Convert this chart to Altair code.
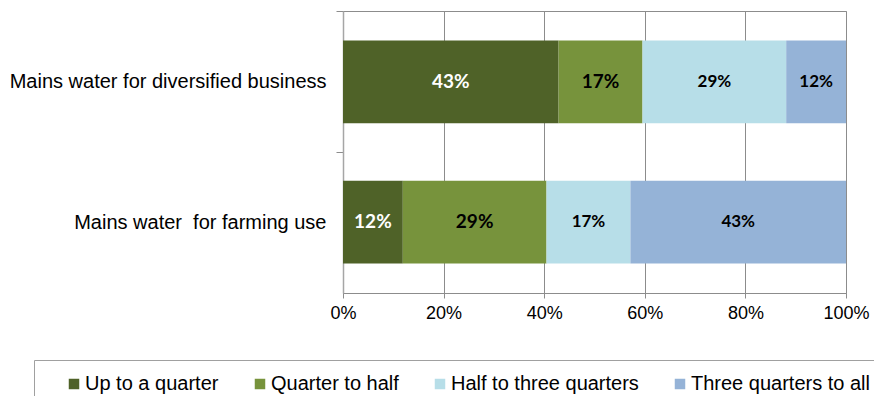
import altair as alt
import pandas as pd

categories = ["Mains water for diversified business", "Mains water\u00a0 for farming use"]
series = ["Up to a quarter", "Quarter to half", "Half to three quarters", "Three quarters to all"]
colors = ["#4F6228", "#77933C", "#B7DEE8", "#95B3D7"]
diversified = [42.9, 16.7, 28.6, 11.9]
farming = [11.9, 28.6, 16.7, 42.9]
x_ticks = [0, 0.2, 0.4, 0.6, 0.8, 1.0]

rows = []
for cat, vals in zip(categories, [diversified, farming]):
    total = sum(vals)
    start = 0.0
    for s, v in zip(series, vals):
        frac = v / total
        rows.append({"category": cat, "series": s, "start": start, "end": start + frac,
                     "mid": start + frac / 2, "label": f"{round(v)}%"})
        start += frac
df = pd.DataFrame(rows)

FONT = "Liberation Sans"

y_enc = alt.Y("category:N", sort=categories, title=None,
              scale=alt.Scale(paddingInner=0.41, paddingOuter=0.21),
              axis=alt.Axis(labelFont=FONT, labelFontSize=20, labelColor="#000000",
                            labelPadding=10, tickSize=7, tickColor="#8C8C8C",
                            domainColor="#A6A6A6", domainWidth=1.5,
                            tickOffset=-70.5, labelOffset=70.5, labelLimit=400))

bars = alt.Chart(df).mark_bar().encode(
    x=alt.X("start:Q", scale=alt.Scale(domain=[0, 1], nice=False),
            axis=alt.Axis(values=x_ticks, format=".0%", labelFont=FONT, labelFontSize=18,
                          labelColor="#000000", tickSize=5, tickColor="#8C8C8C",
                          domainColor="#8C8C8C", gridColor="#8C8C8C", grid=True,
                          labelPadding=6, labelFlush=False), title=None),
    x2="end:Q",
    y=y_enc,
    color=alt.Color("series:N", sort=series,
                    scale=alt.Scale(domain=series, range=colors),
                    legend=alt.Legend(orient="none", legendX=-309, legendY=349,
                                      direction="horizontal", columns=4, title=" ",
                                      titleOrient="left", titleFontSize=1, titlePadding=16,
                                      labelFont=FONT, labelFontSize=20, labelColor="#000000",
                                      labelLimit=400, labelOffset=1,
                                      symbolType="square", symbolSize=110, symbolStrokeWidth=0,
                                      columnPadding=31, padding=14,
                                      strokeColor="#A0A0A0", fillColor="white")),
)

labels = alt.Chart(df).mark_text(font="Lato", fontWeight="bold", baseline="middle").encode(
    x=alt.X("mid:Q"),
    y=alt.Y("category:N", sort=categories),
    text="label:N",
    color=alt.condition(alt.datum.series == series[0], alt.value("#FFFFFF"), alt.value("#000000")),
    size=alt.condition((alt.datum.series == series[0]) | (alt.datum.series == series[1]),
                       alt.value(19), alt.value(17)),
)

chart = (bars + labels).properties(
    width=503, height=282,
    autosize=alt.AutoSizeParams(type="none"),
    padding={"left": 335, "top": 3, "right": 28, "bottom": 103},
).configure_view(stroke="#8C8C8C", strokeWidth=1)

chart.save("out.html", embed_options={"renderer": "svg", "actions": False})
